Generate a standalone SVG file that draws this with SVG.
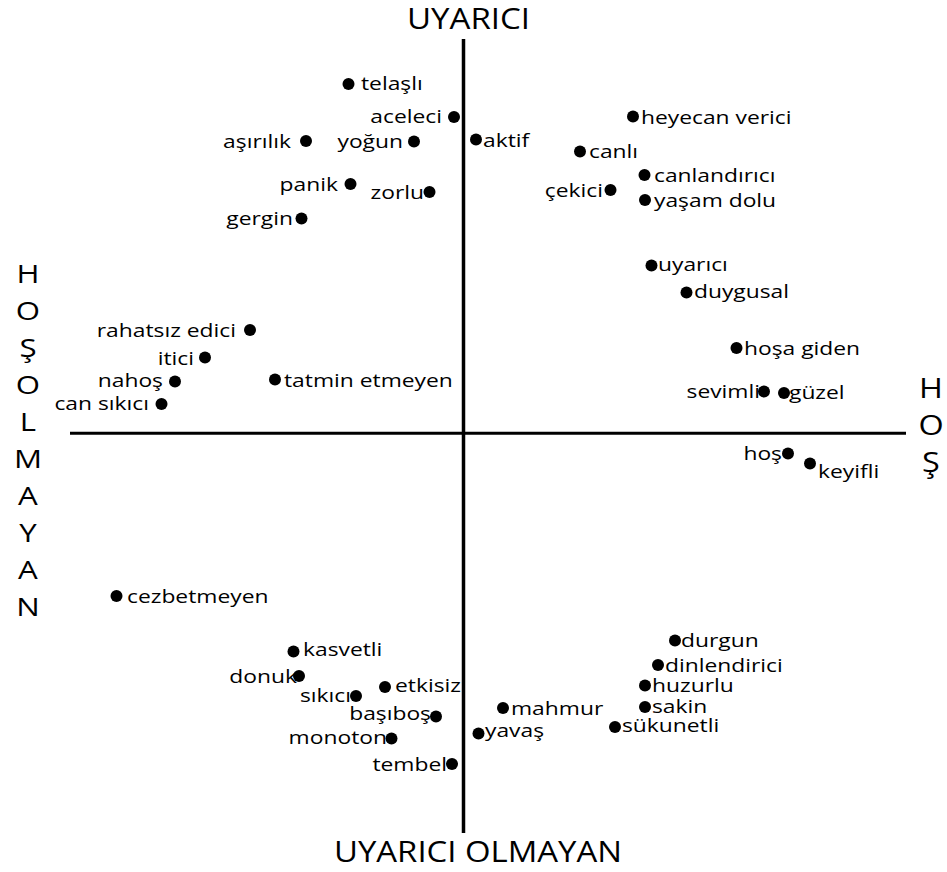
<svg xmlns="http://www.w3.org/2000/svg" width="947" height="872" viewBox="0 0 947 872">
  <style>
    .bg { fill: #ffffff; }
    .axis { stroke: #000; fill: none; }
    .dot { fill: #000; }
    .lbl { font-family: "Open Sans", "Noto Sans", sans-serif; font-size: 18.4px; fill: #000;
           transform-box: fill-box; transform-origin: left bottom; transform: scaleX(1.24); }
    .lbl.end { text-anchor: end; transform-origin: right bottom; }
    .ax { font-family: "Open Sans", "Noto Sans", sans-serif; fill: #000; }
    .letter { font-family: "Open Sans", "Noto Sans", sans-serif; fill: #000; text-anchor: middle;
              transform-box: fill-box; transform-origin: center bottom; transform: scaleX(1.2); }
  </style>
  <rect class="bg" x="0" y="0" width="947" height="872"/>

  <!-- axes -->
  <g id="axes">
    <line class="axis" x1="463.5" y1="39" x2="463.5" y2="833" stroke-width="3.5"/>
    <line class="axis" x1="70" y1="433.3" x2="906" y2="433.3" stroke-width="3"/>
  </g>

  <!-- axis titles -->
  <g id="axis-labels">
    <text class="ax" x="407" y="28.5" font-size="29" textLength="123" lengthAdjust="spacingAndGlyphs">UYARICI</text>
    <text class="ax" x="334" y="862" font-size="28.5" textLength="288" lengthAdjust="spacingAndGlyphs">UYARICI OLMAYAN</text>
    <g font-size="26">
      <text class="letter" x="28" y="283.5">H</text>
      <text class="letter" x="28" y="320.5">O</text>
      <text class="letter" x="28" y="357.5">Ş</text>
      <text class="letter" x="28" y="394.5">O</text>
      <text class="letter" x="28" y="431.5">L</text>
      <text class="letter" x="28" y="468.5">M</text>
      <text class="letter" x="28" y="505.5">A</text>
      <text class="letter" x="28" y="542.5">Y</text>
      <text class="letter" x="28" y="579.5">A</text>
      <text class="letter" x="28" y="616.5">N</text>
    </g>
    <g font-size="27">
      <text class="letter" x="931" y="398.5">H</text>
      <text class="letter" x="931" y="435.5">O</text>
      <text class="letter" x="931" y="472.5">Ş</text>
    </g>
  </g>

  <!-- upper left quadrant -->
  <g id="n-telasli"><circle class="dot" cx="348.5" cy="84" r="6"/><text class="lbl" x="361" y="90">telaşlı</text></g>
  <g id="n-aceleci"><circle class="dot" cx="454" cy="117" r="6"/><text class="lbl end" x="442" y="123">aceleci</text></g>
  <g id="n-asirilik"><circle class="dot" cx="306" cy="141" r="6"/><text class="lbl end" x="291" y="148">aşırılık</text></g>
  <g id="n-yogun"><circle class="dot" cx="414" cy="141.5" r="6"/><text class="lbl end" x="403" y="148">yoğun</text></g>
  <g id="n-aktif"><circle class="dot" cx="476" cy="139.5" r="6"/><text class="lbl" x="483" y="147">aktif</text></g>
  <g id="n-panik"><circle class="dot" cx="350.5" cy="184" r="6"/><text class="lbl end" x="338" y="191">panik</text></g>
  <g id="n-zorlu"><circle class="dot" cx="429.5" cy="192" r="6"/><text class="lbl end" x="424" y="199">zorlu</text></g>
  <g id="n-gergin"><circle class="dot" cx="301.5" cy="218.5" r="6"/><text class="lbl end" x="293" y="225">gergin</text></g>

  <!-- upper right quadrant -->
  <g id="n-heyecan-verici"><circle class="dot" cx="633" cy="116.5" r="6"/><text class="lbl" x="641" y="124">heyecan verici</text></g>
  <g id="n-canli"><circle class="dot" cx="580" cy="151.5" r="6"/><text class="lbl" x="589" y="158.5">canlı</text></g>
  <g id="n-canlandirici"><circle class="dot" cx="644.5" cy="175" r="6"/><text class="lbl" x="654" y="182">canlandırıcı</text></g>
  <g id="n-cekici"><circle class="dot" cx="610.5" cy="190" r="6"/><text class="lbl end" x="603" y="197">çekici</text></g>
  <g id="n-yasam-dolu"><circle class="dot" cx="645" cy="200" r="6"/><text class="lbl" x="654" y="207">yaşam dolu</text></g>
  <g id="n-uyarici"><circle class="dot" cx="651.5" cy="265.5" r="6"/><text class="lbl" x="658" y="271">uyarıcı</text></g>
  <g id="n-duygusal"><circle class="dot" cx="686.5" cy="292.5" r="6"/><text class="lbl" x="694" y="298">duygusal</text></g>
  <g id="n-hosa-giden"><circle class="dot" cx="736.5" cy="348" r="6"/><text class="lbl" x="744" y="355">hoşa giden</text></g>
  <g id="n-sevimli"><circle class="dot" cx="764" cy="391.5" r="6"/><text class="lbl end" x="760" y="398">sevimli</text></g>
  <g id="n-guzel"><circle class="dot" cx="784" cy="393" r="6"/><text class="lbl" x="789" y="399">güzel</text></g>

  <!-- lower right, near the horizontal axis -->
  <g id="n-hos"><circle class="dot" cx="788" cy="453.5" r="6"/><text class="lbl end" x="782" y="460">hoş</text></g>
  <g id="n-keyifli"><circle class="dot" cx="810" cy="463.5" r="6"/><text class="lbl" x="818" y="478">keyifli</text></g>

  <!-- left side, above the horizontal axis -->
  <g id="n-rahatsiz-edici"><circle class="dot" cx="250" cy="330" r="6"/><text class="lbl end" x="236" y="337">rahatsız edici</text></g>
  <g id="n-itici"><circle class="dot" cx="205" cy="357.5" r="6"/><text class="lbl end" x="194" y="365">itici</text></g>
  <g id="n-nahos"><circle class="dot" cx="175" cy="381.5" r="6"/><text class="lbl end" x="163" y="387">nahoş</text></g>
  <g id="n-tatmin-etmeyen"><circle class="dot" cx="275" cy="379.5" r="6"/><text class="lbl" x="284" y="387">tatmin etmeyen</text></g>
  <g id="n-can-sikici"><circle class="dot" cx="161.5" cy="404" r="6"/><text class="lbl end" x="149" y="410">can sıkıcı</text></g>

  <!-- lower left quadrant -->
  <g id="n-cezbetmeyen"><circle class="dot" cx="116.5" cy="596" r="6"/><text class="lbl" x="127" y="603">cezbetmeyen</text></g>
  <g id="n-kasvetli"><circle class="dot" cx="293.5" cy="651.5" r="6"/><text class="lbl" x="303" y="656">kasvetli</text></g>
  <g id="n-donuk"><circle class="dot" cx="299" cy="676" r="6"/><text class="lbl end" x="297" y="683">donuk</text></g>
  <g id="n-sikici"><circle class="dot" cx="356" cy="696" r="6"/><text class="lbl end" x="351" y="702">sıkıcı</text></g>
  <g id="n-etkisiz"><circle class="dot" cx="385" cy="687" r="6"/><text class="lbl" x="395" y="692">etkisiz</text></g>
  <g id="n-basibos"><circle class="dot" cx="436" cy="716.5" r="6"/><text class="lbl end" x="431" y="720">başıboş</text></g>
  <g id="n-monoton"><circle class="dot" cx="391.5" cy="738.5" r="6"/><text class="lbl end" x="387" y="744">monoton</text></g>
  <g id="n-tembel"><circle class="dot" cx="452" cy="764" r="6"/><text class="lbl end" x="447" y="771">tembel</text></g>

  <!-- lower right quadrant -->
  <g id="n-mahmur"><circle class="dot" cx="503" cy="708" r="6"/><text class="lbl" x="511" y="715">mahmur</text></g>
  <g id="n-yavas"><circle class="dot" cx="478.5" cy="733.5" r="6"/><text class="lbl" x="485" y="737">yavaş</text></g>
  <g id="n-durgun"><circle class="dot" cx="675" cy="640.5" r="6"/><text class="lbl" x="681" y="647">durgun</text></g>
  <g id="n-dinlendirici"><circle class="dot" cx="658" cy="665" r="6"/><text class="lbl" x="665" y="672">dinlendirici</text></g>
  <g id="n-huzurlu"><circle class="dot" cx="645" cy="685.5" r="6"/><text class="lbl" x="652" y="692">huzurlu</text></g>
  <g id="n-sakin"><circle class="dot" cx="645" cy="707" r="6"/><text class="lbl" x="652" y="713">sakin</text></g>
  <g id="n-sukunetli"><circle class="dot" cx="615" cy="727" r="6"/><text class="lbl" x="622" y="732">sükunetli</text></g>
</svg>
